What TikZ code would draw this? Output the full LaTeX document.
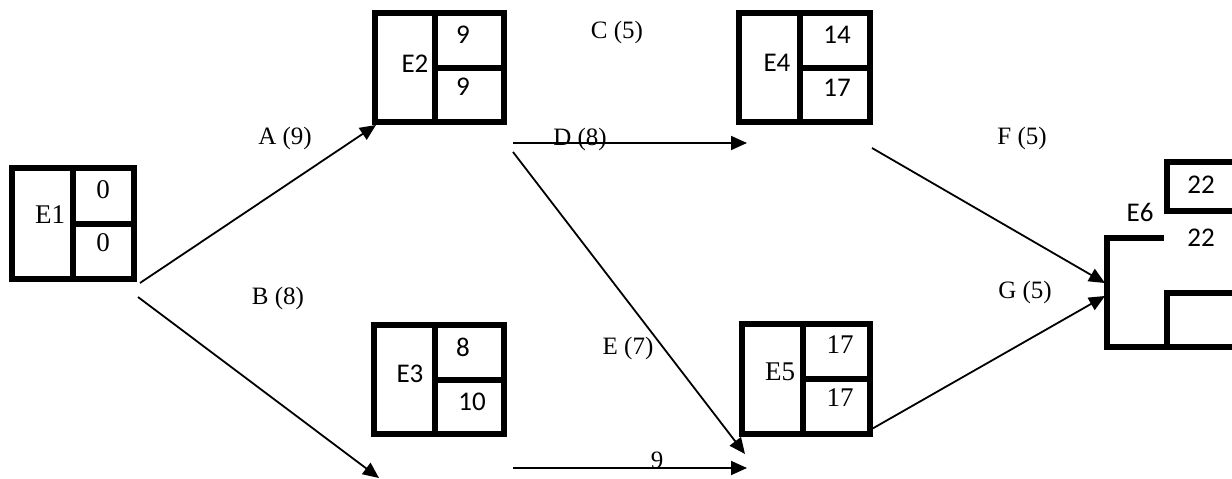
\documentclass[tikz,border=0pt]{standalone}
\usepackage{fontspec}
\setmainfont{Liberation Serif}
\newfontfamily\calib{Carlito}
\usetikzlibrary{arrows.meta}
\tikzset{
  boxline/.style={line width=6pt, line join=miter},
  conn/.style={line width=1.8pt, -{Triangle[length=16pt,width=14pt]}},
  serifnum/.style={font=\fontsize{27}{29}\selectfont, inner sep=0pt},
  sansnum/.style={font=\calib\fontsize{27}{29}\selectfont, inner sep=0pt},
  lbl/.style={font=\fontsize{25}{27}\selectfont, inner sep=0pt},
}
\begin{document}
\begin{tikzpicture}[x=1pt,y=-1pt]
\useasboundingbox (0,0) rectangle (1232,479);
\fill[white] (0,0) rectangle (1232,479);

% E1
\draw[boxline] (12,168) rectangle (134,279);
\draw[boxline] (73,168) -- (73,279) (73,224) -- (134,224);
\node[serifnum] (e1) at (50,215) {E1};
\node[serifnum] (e1a) at (103,190) {0};
\node[serifnum] (e1b) at (103,243) {0};

% E2
\draw[boxline] (375,13) rectangle (504,122);
\draw[boxline] (435,13) -- (435,122) (435,68) -- (504,68);
\node[sansnum] (e2) at (415,64) {E2};
\node[sansnum] (e2a) at (463,35) {9};
\node[sansnum] (e2b) at (463,87) {9};

% E3
\draw[boxline] (374,325) rectangle (504,434);
\draw[boxline] (435,325) -- (435,434) (435,380) -- (504,380);
\node[sansnum] (e3) at (410,374) {E3};
\node[sansnum] (e3a) at (463,347) {8};
\node[sansnum] (e3b) at (472,402) {10};

% E4
\draw[boxline] (739,13) rectangle (870,122);
\draw[boxline] (800,13) -- (800,122) (800,68) -- (870,68);
\node[sansnum] (e4) at (777,63) {E4};
\node[sansnum] (e4a) at (837,35) {14};
\node[sansnum] (e4b) at (837,88) {17};

% E5
\draw[boxline] (742,324) rectangle (870,434);
\draw[boxline] (803,324) -- (803,434) (803,379) -- (870,379);
\node[serifnum] (e5) at (780,372) {E5};
\node[serifnum] (e5a) at (840,345) {17};
\node[serifnum] (e5b) at (840,398) {17};

% E6
\draw[boxline] (1240,162) -- (1167,162) -- (1167,211) -- (1240,211);
\draw[boxline] (1164,238) -- (1107,238) -- (1107,347) -- (1240,347);
\draw[boxline] (1240,293) -- (1167,293) -- (1167,347);
\node[sansnum] (e6) at (1140,212) {E6};
\node[sansnum] (e6a) at (1201,185) {22};
\node[sansnum] (e6b) at (1201,238) {22};

% connector end points
\coordinate (a0) at (140,283);
\coordinate (a1) at (376,125);
\coordinate (b0) at (138,297);
\coordinate (b1) at (379,478);
\coordinate (d0) at (513,143);
\coordinate (d1) at (747,143);
\coordinate (x0) at (513,152);
\coordinate (x1) at (745,454);
\coordinate (n0) at (513,468);
\coordinate (n1) at (747,468);
\coordinate (f0) at (872,148);
\coordinate (f1) at (1105,283);
\coordinate (g0) at (870,430);
\coordinate (g1) at (1105,296);

\draw[conn] (a0) -- (a1);
\draw[conn] (b0) -- (b1);
\draw[conn] (d0) -- (d1);
\draw[conn] (x0) -- (x1);
\draw[conn] (n0) -- (n1);
\draw[conn] (f0) -- (f1);
\draw[conn] (g0) -- (g1);

% labels
\node[lbl] (la) at (285,138) {A (9)};
\node[lbl] (lb) at (278,298) {B (8)};
\node[lbl] (lc) at (617,32) {C (5)};
\node[lbl] (ld) at (580,139) {D (8)};
\node[lbl] (le) at (628,348) {E (7)};
\node[lbl] (lf) at (1022,138) {F (5)};
\node[lbl] (lg) at (1025,292) {G (5)};
\node[lbl] (l9) at (657,460) {9};
\end{tikzpicture}
\end{document}
